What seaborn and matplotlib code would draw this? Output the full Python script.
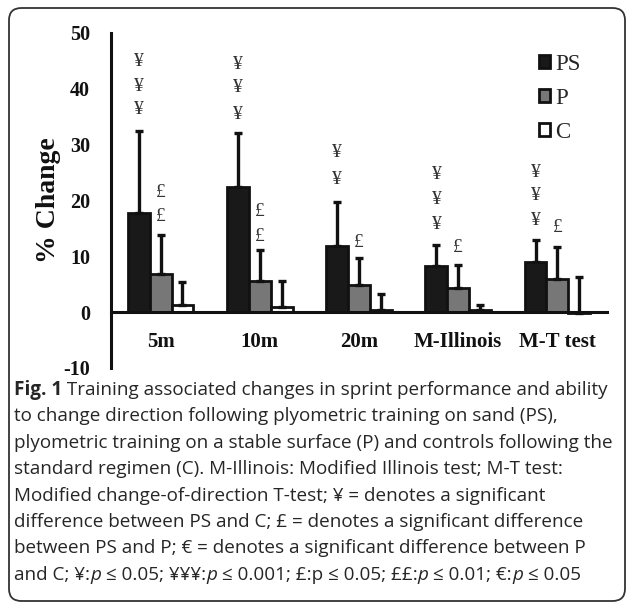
import numpy as np
import pandas as pd
import matplotlib
matplotlib.use("Agg")
import matplotlib.pyplot as plt
import seaborn as sns
from matplotlib.patches import FancyBboxPatch

categories = ["5m", "10m", "20m", "M-Illinois", "M-T test"]
groups = ["PS", "P", "C"]
ps_mean = [17.8, 22.4, 11.9, 8.2, 8.9]
ps_sd = [14.7, 9.6, 7.9, 3.9, 4.1]
p_mean = [6.9, 5.5, 4.8, 4.4, 6.0]
p_sd = [7.0, 5.6, 4.9, 4.1, 5.6]
c_mean = [1.2, 0.9, 0.45, 0.3, -0.2]
c_sd = [4.2, 4.7, 2.75, 0.9, 6.5]

# significance symbols: (category index, group, symbol, y)
sig_cat = [0, 0, 0, 0, 0, 1, 1, 1, 1, 1, 2, 2, 2, 3, 3, 3, 3, 4, 4, 4, 4]
sig_grp = ["PS", "PS", "PS", "P", "P", "PS", "PS", "PS", "P", "P", "PS", "PS", "P",
           "PS", "PS", "PS", "P", "PS", "PS", "PS", "P"]
sig_sym = ["¥", "¥", "¥", "£", "£", "¥", "¥", "¥", "£", "£", "¥", "¥", "£",
           "¥", "¥", "¥", "£", "¥", "¥", "¥", "£"]
sig_y = [44.9, 40.4, 36.3, 21.4, 17.1, 44.4, 40.2, 35.4, 18.0, 13.5, 28.6, 23.7, 12.5,
         24.6, 20.2, 15.7, 11.6, 25.1, 20.9, 16.4, 15.1]

y_ticks = [-10, 0, 10, 20, 30, 40, 50]

caption_lines = [
    "to change direction following plyometric training on sand (PS),",
    "plyometric training on a stable surface (P) and controls following the",
    "standard regimen (C). M-Illinois: Modified Illinois test; M-T test:",
    "Modified change-of-direction T-test; ¥ = denotes a significant",
    "difference between PS and C; £ = denotes a significant difference",
    "between PS and P; € = denotes a significant difference between P",
]
caption_first_bold = "Fig. 1"
caption_first_rest = " Training associated changes in sprint performance and ability"
caption_last = [("and C; ¥:", False), ("p", True), (" ≤ 0.05; ¥¥¥:", False), ("p", True),
                (" ≤ 0.001; £:p ≤ 0.05; ££:", False), ("p", True), (" ≤ 0.01; €:", False),
                ("p", True), (" ≤ 0.05", False)]

sns.set_theme(style="white")
plt.rcParams["font.family"] = ["Liberation Serif", "DejaVu Serif"]

means = {"PS": ps_mean, "P": p_mean, "C": c_mean}
sds = {"PS": ps_sd, "P": p_sd, "C": c_sd}
rows = []
for g in groups:
    for c, m in zip(categories, means[g]):
        rows.append({"test": c, "group": g, "change": m})
df = pd.DataFrame(rows)

W, H = 627, 607
fig = plt.figure(figsize=(W / 100, H / 100), dpi=100)
fig.patch.set_facecolor("white")
ax = fig.add_axes([111 / W, 1 - 368 / H, (607 - 111) / W, (368 - 33) / H])

palette = {"PS": "#191919", "P": "#777777", "C": "#ffffff"}
sns.barplot(data=df, x="test", y="change", hue="group", hue_order=groups,
            order=categories, palette=palette, width=0.66, errorbar=None,
            edgecolor="#111111", linewidth=2.0, saturation=1, ax=ax, zorder=2)

bar_centers = {}
for g, cont in zip(groups, ax.containers):
    xs = [b.get_x() + b.get_width() / 2 for b in cont]
    bar_centers[g] = xs
    ax.errorbar(xs, means[g], yerr=[np.zeros(len(xs)), sds[g]], fmt="none",
                ecolor="#111111", elinewidth=2.4, capsize=3.2, capthick=2.4, zorder=3)

for ci, g, s, yv in zip(sig_cat, sig_grp, sig_sym, sig_y):
    ax.text(bar_centers[g][ci], yv, s, ha="center", va="center", fontsize=14,
            color="#333333", family=["Liberation Serif", "DejaVu Serif"])

# spines first (set_position resets ticks)
for sp in ["top", "right"]:
    ax.spines[sp].set_visible(False)
ax.spines["bottom"].set_position(("data", 0))
ax.spines["bottom"].set_linewidth(2.2)
ax.spines["left"].set_linewidth(2.2)
ax.spines["bottom"].set_color("#111111")
ax.spines["left"].set_color("#111111")
ax.set_facecolor("none")

ax.set_xlim(-0.5, len(categories) - 0.5)
ax.set_ylim(-10, 50)
ax.set_yticks(y_ticks)
ax.set_yticklabels([str(t) for t in y_ticks])
ax.set_xticks(range(len(categories)))
ax.set_xticklabels(categories)
ax.set_xticks(np.arange(len(categories)) + 0.5, minor=True)
ax.tick_params(axis="x", which="major", length=0, pad=14.5, colors="#111111", labelsize=15)
ax.tick_params(axis="x", which="minor", length=5, width=2, direction="out", colors="#111111")
ax.tick_params(axis="y", length=5, width=2, direction="out", pad=10, colors="#111111",
               labelsize=14.5)
for lbl in ax.get_xticklabels() + ax.get_yticklabels():
    lbl.set_fontweight("bold")
ax.set_xlabel("")
ax.set_ylabel("% Change", fontsize=20, fontweight="bold", color="#111111")
ax.yaxis.set_label_coords(-0.10, 0.5)

handles, labels = ax.get_legend_handles_labels()
ax.legend(handles, labels, loc="upper left", bbox_to_anchor=(539 / W, 1 - 54 / H),
          bbox_transform=fig.transFigure, frameon=False, fontsize=16.5,
          handlelength=0.5, handleheight=0.5, handletextpad=0.2,
          labelspacing=0.56, borderaxespad=0, borderpad=0)

# rounded border
border = FancyBboxPatch((9 / W, 6 / H), (625 - 9) / W, (607 - 8 - 6) / H,
                        boxstyle="round,pad=0,rounding_size=0.02",
                        transform=fig.transFigure, facecolor="none",
                        edgecolor="#333333", linewidth=1.3)
fig.patches.append(border)

cap_font = ["Open Sans", "DejaVu Sans"]
cap_size = 13.6
cap_col = "#262626"
x0 = 14 / W
base0 = 395
step = 26.4
t = fig.text(x0, 1 - base0 / H, caption_first_bold, fontsize=cap_size, fontweight="bold",
             family=cap_font, color=cap_col, va="baseline")
fig.canvas.draw()
bb = t.get_window_extent()
fig.text(bb.x1 / W, 1 - base0 / H, caption_first_rest, fontsize=cap_size,
         family=cap_font, color=cap_col, va="baseline")
for i, line in enumerate(caption_lines):
    fig.text(x0, 1 - (base0 + step * (i + 1)) / H, line, fontsize=cap_size,
             family=cap_font, color=cap_col, va="baseline")
ylast = 1 - (base0 + step * 7) / H
xcur = x0
for seg, ital in caption_last:
    tt = fig.text(xcur, ylast, seg, fontsize=cap_size, family=cap_font, color=cap_col,
                  va="baseline", style="italic" if ital else "normal")
    fig.canvas.draw()
    xcur = tt.get_window_extent().x1 / W

fig.savefig("out.png", dpi=100)
